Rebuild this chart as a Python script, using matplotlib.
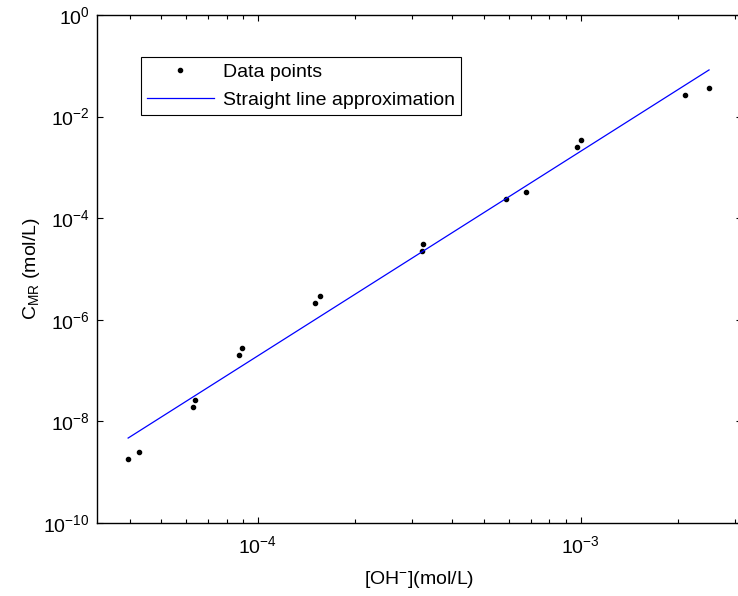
import matplotlib
matplotlib.use("Agg")
import matplotlib.pyplot as plt
from matplotlib.ticker import LogLocator, NullLocator, NullFormatter

plt.rcParams['font.family'] = ['Liberation Sans', 'DejaVu Sans']
plt.rcParams['mathtext.fontset'] = 'custom'
plt.rcParams['mathtext.rm'] = 'Liberation Sans'
plt.rcParams['mathtext.it'] = 'Liberation Sans:italic'
plt.rcParams['mathtext.bf'] = 'Liberation Sans:bold'

# Data
oh_conc = [3.96e-5, 4.29e-5, 6.31e-5, 6.38e-5, 8.71e-5, 8.95e-5,
           1.503e-4, 1.556e-4, 3.23e-4, 3.24e-4, 5.89e-4, 6.78e-4,
           9.77e-4, 1.0e-3, 2.10e-3, 2.50e-3]
c_mr = [1.82e-9, 2.51e-9, 1.90e-8, 2.64e-8, 2.03e-7, 2.82e-7,
        2.11e-6, 2.94e-6, 2.23e-5, 3.10e-5, 2.35e-4, 3.28e-4,
        2.52e-3, 3.46e-3, 2.66e-2, 3.71e-2]
fit_x = [3.96e-5, 2.50e-3]
fit_y = [4.7e-9, 8.3e-2]

FS = 14

fig = plt.figure(figsize=(7.38, 5.96), dpi=100)
ax = fig.add_axes([0.1309, 0.1225, 0.8745, 0.8523])

ax.plot(oh_conc, c_mr, linestyle='none', marker='o', markersize=3,
        color='black', label='Data points')
ax.plot(fit_x, fit_y, color='blue', linewidth=0.9,
        label='Straight line approximation')

ax.set_xscale('log')
ax.set_yscale('log')
ax.set_xlim(10**-4.5, 10**-2.5)
ax.set_ylim(1e-10, 1e0)

ax.xaxis.set_major_locator(LogLocator(base=10, numticks=10))
ax.xaxis.set_minor_locator(LogLocator(base=10, subs=range(2, 10), numticks=20))
ax.xaxis.set_minor_formatter(NullFormatter())
ax.yaxis.set_major_locator(LogLocator(base=100, numticks=10))
ax.yaxis.set_minor_locator(NullLocator())

ax.tick_params(which='both', direction='in', top=True, right=True,
               labelsize=FS, width=0.8)
ax.tick_params(which='major', length=4.5)
ax.tick_params(which='minor', length=3)
ax.tick_params(axis='x', pad=9)
ax.tick_params(axis='y', pad=5)
for s in ax.spines.values():
    s.set_linewidth(1.0)

ax.set_xlabel('[OH$^{-}$](mol/L)', fontsize=FS, labelpad=8)
ax.set_ylabel('C$_{\\mathrm{MR}}$ (mol/L)', fontsize=FS, labelpad=1)

leg = ax.legend(loc='upper left', bbox_to_anchor=(0.0688, 0.917),
                borderaxespad=0, fontsize=FS, handlelength=3.45,
                fancybox=False, framealpha=1, edgecolor='black',
                borderpad=0.3, labelspacing=0.55, handletextpad=0.46)
leg.get_frame().set_linewidth(0.8)

fig.savefig('out.png', dpi=100)
